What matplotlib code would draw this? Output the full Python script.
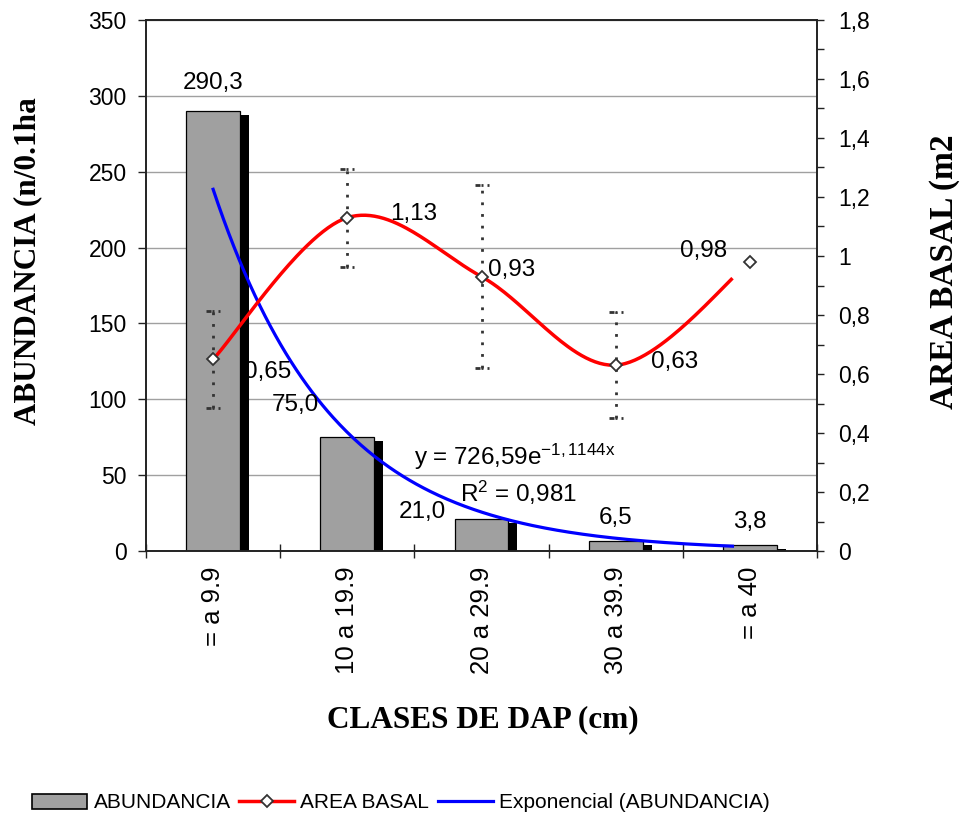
import numpy as np
import matplotlib
matplotlib.use("Agg")
import matplotlib.pyplot as plt
from matplotlib import patheffects as pe
from matplotlib.path import Path
from matplotlib.ticker import FuncFormatter, MultipleLocator
from matplotlib.lines import Line2D
from matplotlib.patches import Patch

# ---------------- data ----------------
categories = ["= a 9.9", "10 a 19.9", "20 a 29.9", "30 a 39.9", "= a 40"]
abundancia = [290.3, 75.0, 21.0, 6.5, 3.8]
area_basal = [0.65, 1.13, 0.93, 0.63, 0.98]
area_err = [0.165, 0.166, 0.31, 0.18, 0.0]
abund_labels = ["290,3", "75,0", "21,0", "6,5", "3,8"]
area_labels = ["0,65", "1,13", "0,93", "0,63", "0,98"]
trend_a = 726.59
trend_b = -1.1144
trend_r2 = 0.981
curve_end = 3.87  # where Excel stops drawing the curves (category index)

# ---------------- style ----------------
plt.rcParams["font.family"] = ["Liberation Sans", "DejaVu Sans"]
plt.rcParams["mathtext.fontset"] = "custom"
plt.rcParams["mathtext.rm"] = "Liberation Sans"
plt.rcParams["mathtext.it"] = "Liberation Sans:italic"
plt.rcParams["mathtext.bf"] = "Liberation Sans:bold"

GRAY = "#a0a0a0"
DARK = "#222222"
FS_TICK = 16.5
FS_XTICK = 18.5
FS_LAB = 17.5


def comma(v, _=None):
    s = f"{v:g}"
    return s.replace(".", ",")


def smooth(xs, ys, n=60):
    """Excel-like smoothed line (cubic Bezier / Catmull-Rom)."""
    P = np.column_stack([xs, ys]).astype(float)
    ext = np.vstack([P[0], P, P[-1]])
    out = []
    t = np.linspace(0, 1, n)
    for i in range(len(P) - 1):
        p0, p1, p2, p3 = ext[i], ext[i + 1], ext[i + 2], ext[i + 3]
        c1 = p1 + (p2 - p0) / 6.0
        c2 = p2 - (p3 - p1) / 6.0
        seg = ((1 - t) ** 3)[:, None] * p1 + (3 * (1 - t) ** 2 * t)[:, None] * c1 \
            + (3 * (1 - t) * t ** 2)[:, None] * c2 + (t ** 3)[:, None] * p2
        out.append(seg if i == 0 else seg[1:])
    return np.vstack(out)


fig = plt.figure(figsize=(9.67, 8.19), dpi=100)
ax = fig.add_axes([0.151, 0.3272, 0.6939, 0.6484])
ax2 = ax.twinx()

x = np.arange(len(categories))

# bars with black shadow
ax.bar(x, abundancia, width=0.4, color=GRAY, edgecolor="black", linewidth=0.9,
       zorder=2,
       path_effects=[pe.SimplePatchShadow(offset=(6.5, -3), shadow_rgbFace="black", alpha=1.0),
                     pe.Normal()])

# exponential trendline (from the fitted equation shown in the chart)
xt = np.linspace(0, curve_end, 300)
ax.plot(xt, trend_a * np.exp(trend_b * (xt + 1)), color="#0000ff", lw=2.3, zorder=3)

ax.set_xlim(-0.5, len(categories) - 0.5)
ax.set_ylim(0, 350)
ax.yaxis.set_major_locator(MultipleLocator(50))
ax.yaxis.grid(True, color=GRAY, lw=1.0)
ax.set_axisbelow(True)
ax.set_xticks(x)
ax.set_xticklabels(categories, rotation=90, fontsize=FS_XTICK)
ax.set_xticks(np.arange(-0.5, len(categories), 1.0), minor=True)
ax.tick_params(axis="x", which="major", length=0, pad=11)
ax.tick_params(axis="x", which="minor", direction="inout", length=10, width=1.0, color=DARK)
ax.tick_params(axis="y", which="major", direction="out", length=6, width=1.0,
               color=DARK, labelsize=FS_TICK, pad=8)
for s in ax.spines.values():
    s.set_color(DARK)
    s.set_linewidth(1.2)

# area basal on secondary axis
sm = smooth(x, area_basal)
sm = sm[sm[:, 0] <= curve_end]
ax2.plot(sm[:, 0], sm[:, 1], color="#ff0000", lw=2.5, zorder=3)

errx = [xi for xi, e in zip(x, area_err) if e > 0]
erry = np.array([yi for yi, e in zip(area_basal, area_err) if e > 0])
erre = np.array([e for e in area_err if e > 0])
for xi, yi, e in zip(errx, erry, erre):
    ax2.plot([xi, xi], [yi - e, yi + e], color="#333333", lw=2.0,
             linestyle=(0, (1.0, 3.2)), zorder=2)
cap_path = Path([(-1, 0), (-0.35, 0), (-0.1, 0), (0.1, 0), (0.75, 0), (1, 0)],
                [Path.MOVETO, Path.LINETO, Path.MOVETO, Path.LINETO, Path.MOVETO, Path.LINETO])
for sign in (1, -1):
    ax2.plot(errx, erry + sign * erre, linestyle="none", marker=cap_path,
             markersize=10, markeredgecolor="#333333", markerfacecolor="none",
             mew=2.0, zorder=2)

ax2.plot(x, area_basal, linestyle="none", marker="D", markersize=6.5,
         markerfacecolor="white", markeredgecolor="#333333", mew=1.3, zorder=4)

ax2.set_ylim(0, 1.8)
ax2.yaxis.set_major_locator(MultipleLocator(0.2))
ax2.yaxis.set_minor_locator(MultipleLocator(0.1))
ax2.yaxis.set_major_formatter(FuncFormatter(lambda v, p: comma(round(v, 1))))
ax2.tick_params(axis="y", which="both", direction="out", length=5, width=1.0,
                color=DARK, labelsize=FS_TICK, pad=10)
for s in ax2.spines.values():
    s.set_color(DARK)
    s.set_linewidth(1.2)

# data labels
abund_off = [(0, 28), (-52, 32), (-59, 7), (0, 23), (0, 23)]
for xi, v, lab, off in zip(x, abundancia, abund_labels, abund_off):
    ax.annotate(lab, xy=(xi, v), xytext=off, textcoords="offset pixels",
                ha="center", va="center", fontsize=FS_LAB, zorder=5)
area_off = [(55, -13), (66, 4), (30, 7), (59, 3), (-46, 11)]
for xi, v, lab, off in zip(x, area_basal, area_labels, area_off):
    ax2.annotate(lab, xy=(xi, v), xytext=off, textcoords="offset pixels",
                 ha="center", va="center", fontsize=FS_LAB, zorder=5)

# trendline equation
a_txt = f"{trend_a:.2f}".replace(".", ",")
b_txt = f"{trend_b:.4f}".replace(".", "{,}\\,")
ax.text(1.50, 62, f"y = {a_txt}e$^{{\\mathrm{{{b_txt}x}}}}$", ha="left", va="center",
        fontsize=FS_LAB, zorder=5)
ax.text(1.84, 38, f"R$^{{2}}$ = {trend_r2:.3f}".replace(".", ","), ha="left", va="center",
        fontsize=FS_LAB, zorder=5)

# axis titles
title_font = dict(family=["Liberation Serif", "DejaVu Serif"], weight="bold")
fig.text(28 / 967, 1 - 261 / 819, "ABUNDANCIA (n/0.1ha", rotation=90,
         ha="center", va="center", fontsize=22.5, **title_font)
fig.text(945 / 967, 1 - 272 / 819, "AREA BASAL (m2", rotation=90,
         ha="center", va="center", fontsize=24, **title_font)
fig.text(483 / 967, 1 - 720 / 819, "CLASES DE DAP (cm)", ha="center", va="center",
         fontsize=22.5, **title_font)

# legend
handles = [
    Patch(facecolor=GRAY, edgecolor="black", linewidth=1.2),
    Line2D([], [], color="#ff0000", lw=2.5, marker="D", markersize=6.5,
           markerfacecolor="white", markeredgecolor="#333333", mew=1.3),
    Line2D([], [], color="#0000ff", lw=2.3),
]
labels = ["ABUNDANCIA", "AREA BASAL", "Exponencial (ABUNDANCIA)"]
fig.legend(handles, labels, loc="center", bbox_to_anchor=(401 / 967, 1 - 803 / 819),
           ncol=3, frameon=False, fontsize=15, handlelength=2.65, handletextpad=0.3,
           columnspacing=0.4)

fig.savefig("out.png", dpi=100)
